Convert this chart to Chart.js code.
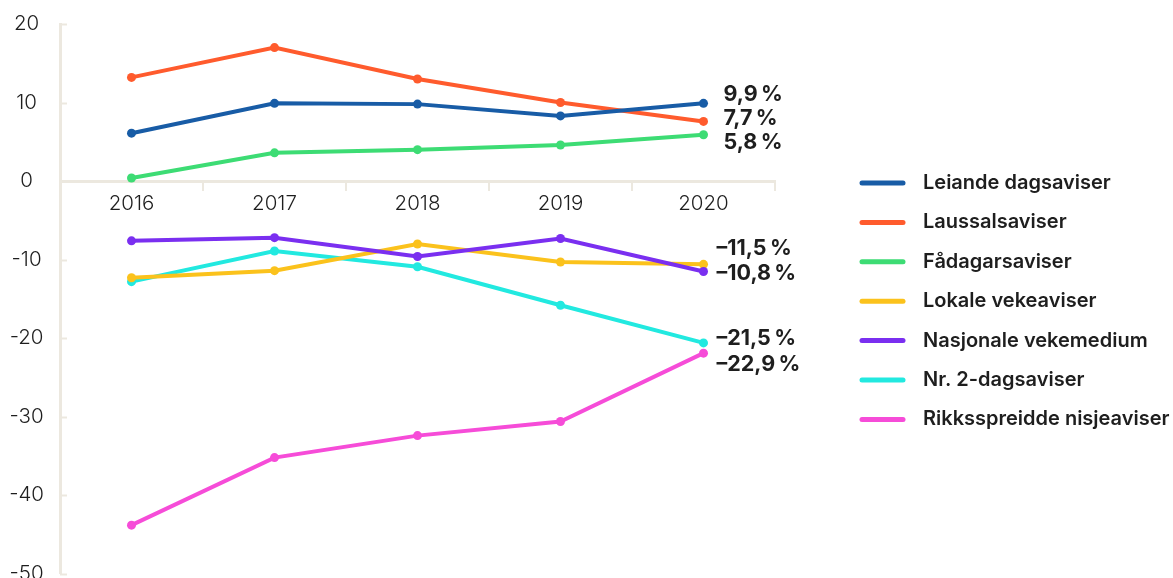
<!DOCTYPE html>
<html>
<head>
<meta charset="utf-8">
<script src="https://cdn.jsdelivr.net/npm/chart.js@4.4.1/dist/chart.umd.min.js"></script>
<style>
  html, body { margin: 0; padding: 0; background: #ffffff; overflow: hidden; }
  #wrap { position: relative; width: 1173px; height: 578px; overflow: hidden; }
</style>
</head>
<body>
<div id="wrap"><canvas id="c" width="1173" height="595"></canvas></div>
<script>
// ---- data ----
const years = ['2016', '2017', '2018', '2019', '2020'];
const seriesNames = ['Leiande dagsaviser', 'Laussalsaviser', 'Fådagarsaviser', 'Lokale vekeaviser', 'Nasjonale vekemedium', 'Nr. 2-dagsaviser', 'Rikksspreidde nisjeaviser'];
const leiande   = [6.1, 9.9, 9.8, 8.3, 9.9];
const laussal   = [13.2, 17.0, 13.0, 10.0, 7.6];
const fadagars  = [0.4, 3.6, 4.0, 4.6, 5.9];
const lokale    = [-12.3, -11.4, -8.0, -10.3, -10.6];
const nasjonale = [-7.6, -7.2, -9.6, -7.3, -11.5];
const nr2       = [-12.8, -8.9, -10.9, -15.8, -20.6];
const rikks     = [-43.8, -35.2, -32.4, -30.6, -21.9];
const yTicks    = [20, 10, 0, -10, -20, -30, -40, -50];
const endLabels = ['9,9\u2009%', '7,7\u2009%', '5,8\u2009%', '\u201310,8\u2009%', '\u201311,5\u2009%', '\u201321,5\u2009%', '\u201322,9\u2009%'];

const colors = ['#185ca6', '#ff5b2d', '#3ddc74', '#fbc21c', '#7a2ff0', '#22e9e0', '#f64cd8'];
const allSeries = [leiande, laussal, fadagars, lokale, nasjonale, nr2, rikks];
// pixel nudges for end labels (style only)
const endDy = [-9, -3, 8, 9, -23, -4, 11];

const AXIS = '#ece8df';
const TEXT = '#1e1e1e';

const datasets = allSeries.map((d, i) => ({
  label: seriesNames[i],
  data: d,
  borderColor: colors[i],
  backgroundColor: colors[i],
  borderWidth: 4,
  pointRadius: 4.5,
  pointBorderWidth: 0,
  pointBackgroundColor: colors[i],
  tension: 0,
  order: i === 4 ? -1 : i
}));

const extras = {
  id: 'extras',
  afterDraw(chart) {
    const ctx = chart.ctx;
    const ys = chart.scales.y;
    ctx.save();
    // inner tick marks on y axis
    ctx.strokeStyle = AXIS;
    ctx.lineWidth = 2;
    yTicks.forEach(v => {
      if (v === 0) return;
      const py = Math.round(ys.getPixelForValue(v)) + 0.5;
      ctx.beginPath();
      ctx.moveTo(ys.right, py);
      ctx.lineTo(ys.right + 7, py);
      ctx.stroke();
    });
    // end labels
    ctx.fillStyle = TEXT;
    ctx.font = 'bold 21.5px Inter, "Noto Sans", sans-serif';
    ctx.textBaseline = 'middle';
    ctx.textAlign = 'left';
    chart.data.datasets.forEach((ds, i) => {
      const meta = chart.getDatasetMeta(i);
      const pt = meta.data[meta.data.length - 1];
      const neg = endLabels[i].startsWith('\u2013');
      ctx.fillText(endLabels[i], pt.x + (neg ? 13 : 20), pt.y + endDy[i]);
    });
    // legend
    ctx.font = '600 20px Inter, "Noto Sans", sans-serif';
    ctx.lineCap = 'round';
    ctx.lineWidth = 5;
    chart.data.datasets.forEach((ds, i) => {
      const y = 183 + i * 39.4;
      ctx.strokeStyle = ds.borderColor;
      ctx.beginPath();
      ctx.moveTo(862, y);
      ctx.lineTo(903, y);
      ctx.stroke();
      ctx.fillStyle = TEXT;
      ctx.fillText(ds.label, 923, y);
    });
    ctx.restore();
  }
};

new Chart(document.getElementById('c'), {
  type: 'line',
  data: { labels: years, datasets },
  options: {
    responsive: false,
    animation: false,
    events: [],
    layout: { padding: { top: 24, bottom: 5, left: 0, right: 398 } },
    plugins: { legend: { display: false }, tooltip: { enabled: false } },
    scales: {
      x: {
        position: { y: 0 },
        offset: true,
        grid: {
          offset: true,
          drawOnChartArea: false,
          drawTicks: true,
          tickLength: 8,
          color: AXIS,
          lineWidth: 2
        },
        border: { display: true, color: AXIS, width: 3 },
        ticks: {
          color: TEXT,
          font: { family: 'Inter, "Noto Sans", sans-serif', size: 20.5, weight: 300 },
          padding: 2,
          maxRotation: 0
        }
      },
      y: {
        min: -50,
        max: 20,
        afterBuildTicks(scale) { scale.ticks = yTicks.map(v => ({ value: v })); },
        afterFit(scale) { scale.width = 60; },
        grid: { display: true, drawOnChartArea: false, drawTicks: false },
        border: { display: true, color: AXIS, width: 3 },
        ticks: {
          color: TEXT,
          crossAlign: 'center',
          padding: 16,
          font: { family: 'Inter, "Noto Sans", sans-serif', size: 20.5, weight: 300, lineHeight: 0.5 }
        }
      }
    }
  },
  plugins: [extras]
});
</script>
</body>
</html>
